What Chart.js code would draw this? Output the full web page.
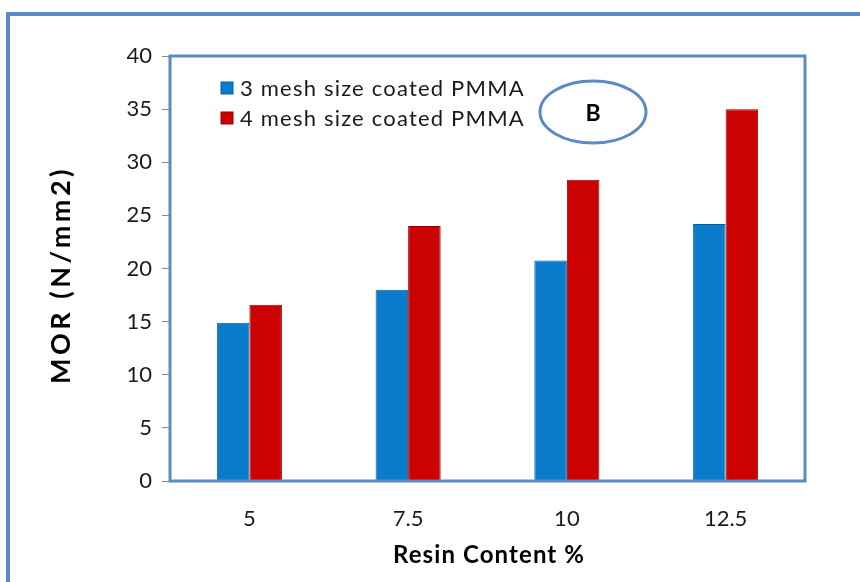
<!DOCTYPE html>
<html>
<head>
<meta charset="utf-8">
<script src="https://cdn.jsdelivr.net/npm/chart.js@4"></script>
<style>
html,body{margin:0;padding:0;background:#fff;}
#wrap{width:860px;height:582px;position:relative;}
</style>
</head>
<body>
<div id="wrap"><canvas id="c" width="860" height="582"></canvas></div>
<script>
const categories = ["5", "7.5", "10", "12.5"];
const series3mesh = [14.9, 18.0, 20.75, 24.2];
const series4mesh = [16.6, 24.0, 28.35, 35.0];
const seriesLabels = ["3 mesh size coated PMMA", "4 mesh size coated PMMA"];
const yTicks = [0, 5, 10, 15, 20, 25, 30, 35, 40];
const xTitle = "Resin Content %";
const yTitle = "MOR (N/mm2)";
const panelLabel = "B";

const FONT = "Lato, 'Open Sans', sans-serif";
const FRAME = "#5B8BC6";
const BLUE = "#0A7CCB", RED = "#CC0202";

function barGradient(ctx, light, mid, dark) {
  const chart = ctx.chart;
  const el = ctx.element;
  if (!el || !chart.chartArea || el.width === undefined) return mid;
  const x0 = el.x - el.width / 2, x1 = el.x + el.width / 2;
  if (!isFinite(x0) || !isFinite(x1) || x1 <= x0) return mid;
  const g = chart.ctx.createLinearGradient(x0, 0, x1, 0);
  g.addColorStop(0, dark);
  g.addColorStop(0.12, mid);
  g.addColorStop(0.5, light);
  g.addColorStop(0.88, mid);
  g.addColorStop(1, dark);
  return g;
}

const decor = {
  id: "decor",
  beforeDraw(chart) {
    const ctx = chart.ctx;
    ctx.save();
    ctx.strokeStyle = FRAME;
    ctx.lineWidth = 4;
    ctx.beginPath();
    ctx.moveTo(8, 582);
    ctx.lineTo(8, 14);
    ctx.lineTo(860, 14);
    ctx.stroke();
    ctx.restore();
  },
  afterDatasetsDraw(chart) {
    const ctx = chart.ctx;
    const a = chart.chartArea;
    ctx.save();
    ctx.strokeStyle = FRAME;
    ctx.lineWidth = 3;
    ctx.strokeRect(a.left, a.top, a.right - a.left, a.bottom - a.top);
    // legend
    ctx.font = "22px " + FONT;
    ctx.letterSpacing = "1.2px";
    ctx.textBaseline = "middle";
    ctx.textAlign = "left";
    const legendColors = [[BLUE, "#08619F"], [RED, "#9A0000"]];
    chart.data.datasets.forEach((ds, i) => {
      const y = 88 + i * 30;
      ctx.fillStyle = legendColors[i][0];
      ctx.fillRect(221, y - 6, 12, 12);
      ctx.strokeStyle = legendColors[i][1];
      ctx.lineWidth = 1;
      ctx.strokeRect(221, y - 6, 12, 12);
      ctx.fillStyle = "#1a1a1a";
      ctx.fillText(ds.label, 240, y + 1);
    });
    // ellipse with B
    ctx.letterSpacing = "0px";
    ctx.beginPath();
    ctx.ellipse(593, 112, 53, 31, 0, 0, Math.PI * 2);
    ctx.strokeStyle = FRAME;
    ctx.lineWidth = 3;
    ctx.stroke();
    ctx.fillStyle = "#000";
    ctx.font = "bold 23px " + FONT;
    ctx.textAlign = "center";
    ctx.fillText(panelLabel, 593, 114);
    // axis titles
    ctx.font = "bold 24px " + FONT;
    ctx.letterSpacing = "1.1px";
    ctx.fillText(xTitle, 489, 555);
    ctx.save();
    ctx.translate(61, 275);
    ctx.rotate(-Math.PI / 2);
    ctx.font = "bold 27px " + FONT;
    ctx.letterSpacing = "3.5px";
    ctx.fillText(yTitle, 0, 0);
    ctx.restore();
    ctx.restore();
  }
};

new Chart(document.getElementById("c"), {
  type: "bar",
  data: {
    labels: categories,
    datasets: [
      { label: seriesLabels[0], data: series3mesh,
        backgroundColor: (c) => barGradient(c, "#1A8EDB", BLUE, "#066AAE"),
        borderColor: "#08619F", borderWidth: 1 },
      { label: seriesLabels[1], data: series4mesh,
        backgroundColor: (c) => barGradient(c, "#D80808", RED, "#A80000"),
        borderColor: "#9A0000", borderWidth: 1 }
    ]
  },
  options: {
    responsive: false,
    animation: false,
    layout: { padding: { left: 0, right: 55, top: 56, bottom: 0 } },
    plugins: { legend: { display: false }, tooltip: { enabled: false } },
    datasets: { bar: { barPercentage: 1.0, categoryPercentage: 0.41 } },
    scales: {
      x: {
        grid: { display: false, drawTicks: false },
        border: { display: false },
        ticks: { color: "#1a1a1a", font: { family: FONT, size: 22 }, padding: 25 },
        title: { display: false, text: xTitle },
        afterFit(s) { s.height = 101; }
      },
      y: {
        min: 0, max: 40,
        afterBuildTicks(s) { s.ticks = yTicks.map(v => ({ value: v })); },
        grid: { display: true, drawOnChartArea: false, drawTicks: true, tickLength: 8, color: "#888" },
        border: { display: false },
        ticks: { color: "#1a1a1a", font: { family: FONT, size: 22 }, padding: 10 },
        title: { display: false, text: yTitle },
        afterFit(s) { s.width = 170; }
      }
    }
  },
  plugins: [decor]
});
</script>
</body>
</html>
